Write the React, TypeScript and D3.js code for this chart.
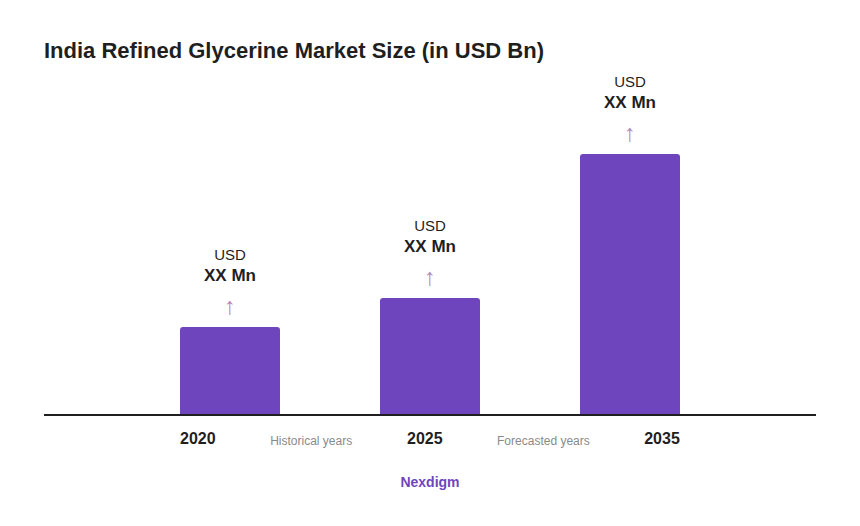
import { scaleBand, scaleLinear } from 'd3';

const years = ['2020', '2025', '2035'];
// No figures on the chart, so these are read off the bar heights
const values = [87, 116, 260];
const valueLabels = ['XX Mn', 'XX Mn', 'XX Mn'];
const currencyLabels = ['USD', 'USD', 'USD'];
const spanLabels = ['Historical years', 'Forecasted years'];

const width = 860;
const height = 526;
const font = '"Liberation Sans", Arial, sans-serif';
const purple = '#6f45bd';
const dark = '#1f1f1f';

// The year labels do not sit under the bars' centres in the original
const yearX = [197.8, 424.8, 662];
const spanX = [311.2, 543.4];

export default function App() {
  const xScale = scaleBand<string>()
    .domain(years)
    .range([130, 730])
    .paddingInner(0.5)
    .paddingOuter(0.25);

  const yScale = scaleLinear().domain([0, 260]).range([414, 154]);

  return (
    <svg
      width={width}
      height={height}
      viewBox={`0 0 ${width} ${height}`}
      style={{ position: 'absolute', left: 0, top: 0, background: '#fff', fontFamily: font }}
    >
      <text x={44} y={58} fontSize={22} fontWeight={700} fill={dark}>
        India Refined Glycerine Market Size (in USD Bn)
      </text>

      {years.map((year, i) => {
        const x = xScale(year) || 0;
        const top = yScale(values[i]);
        const cx = x + xScale.bandwidth() / 2;
        return (
          <g key={year}>
            <path
              d={`M${x},414V${top + 3}a3,3 0 0 1 3,-3H${x + xScale.bandwidth() - 3}a3,3 0 0 1 3,3V414Z`}
              fill={purple}
            />
            <text x={cx} y={top - 67} textAnchor="middle" fontSize={15} fill={dark}>
              {currencyLabels[i]}
            </text>
            <text x={cx} y={top - 46} textAnchor="middle" fontSize={17} fontWeight={700} fill={dark}>
              {valueLabels[i]}
            </text>
            <text x={cx} y={top - 13} textAnchor="middle" fontSize={24} fill="#b97fb4">
              ↑
            </text>
            <text x={yearX[i]} y={444} textAnchor="middle" fontSize={16} fontWeight={700} fill={dark}>
              {year}
            </text>
          </g>
        );
      })}

      <line x1={44} x2={816} y1={415} y2={415} stroke={dark} strokeWidth={2} />

      {spanLabels.map((label, i) => (
        <text key={label} x={spanX[i]} y={445} textAnchor="middle" fontSize={12} fill="#8a8a8a">
          {label}
        </text>
      ))}

      <text x={430} y={487} textAnchor="middle" fontSize={14} fontWeight={700} fill={purple}>
        Nexdigm
      </text>
    </svg>
  );
}
